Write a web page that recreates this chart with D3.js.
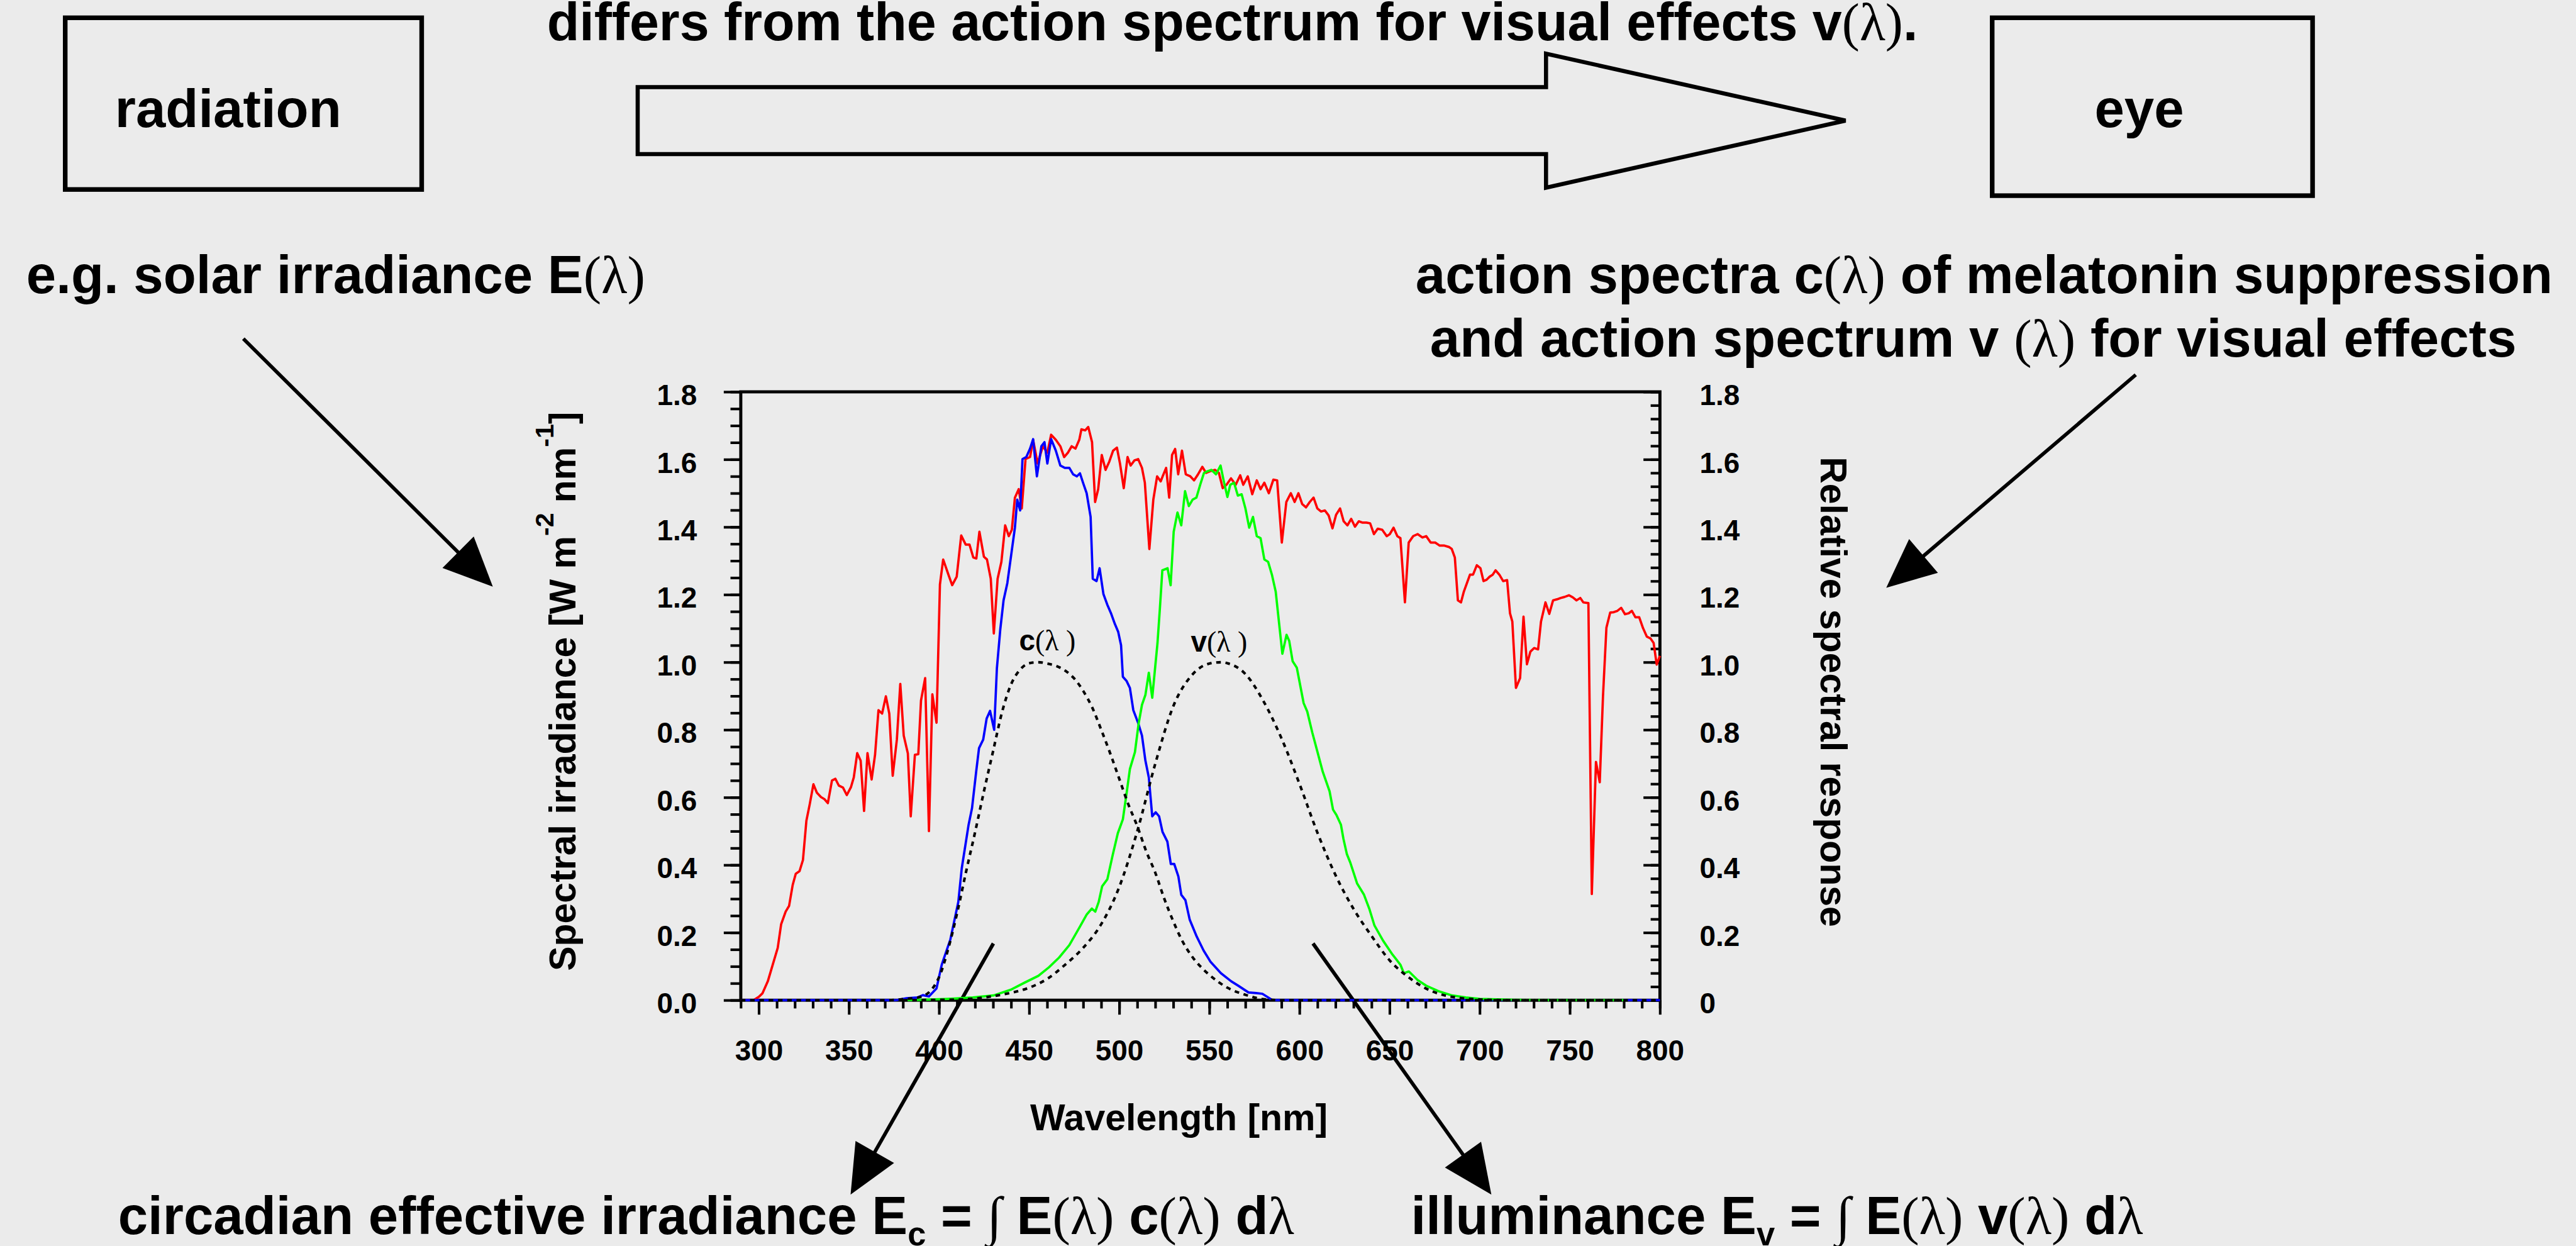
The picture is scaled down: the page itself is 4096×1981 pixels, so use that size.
<!DOCTYPE html>
<html><head><meta charset="utf-8">
<script src="https://cdn.jsdelivr.net/npm/d3@7"></script>
<style>html,body{margin:0;padding:0;background:#ebebeb;overflow:hidden}</style>
</head><body>
<script>
// ---------------- DATA ----------------
// solar spectral irradiance E(λ)  [nm, W m-2 nm-1]  (red)
const solarIrradiance = [[290,0],[297,0],[300,0.01],[302,0.02],[305,0.056],[310.5,0.155],[312.4,0.225],[314.9,0.262],[316.8,0.279],[318.8,0.341],[320.5,0.374],[322.6,0.382],[324.5,0.415],[326.4,0.531],[328.3,0.581],[330.3,0.639],[332.2,0.614],[334.5,0.601],[336.4,0.595],[338.3,0.583],[340.6,0.650],[342.5,0.655],[344.4,0.635],[346.7,0.629],[348.8,0.607],[351.1,0.630],[352.7,0.659],[354.6,0.731],[356.5,0.709],[358.4,0.560],[360.3,0.731],[362.6,0.653],[364.5,0.726],[366.4,0.858],[368.4,0.848],[370.5,0.899],[372.4,0.848],[374.3,0.664],[376.6,0.771],[378.5,0.936],[380.4,0.783],[382.7,0.730],[384.3,0.544],[386.6,0.726],[388.5,0.728],[390,0.887],[392.3,0.953],[394.4,0.500],[396.3,0.905],[398.6,0.821],[400.5,1.23],[402.3,1.304],[405.2,1.259],[407.3,1.228],[409.8,1.253],[412.3,1.375],[414.8,1.348],[416.9,1.348],[419,1.310],[420.7,1.307],[422.4,1.386],[424.9,1.312],[426.6,1.304],[428.7,1.247],[430.4,1.085],[432.5,1.247],[434.6,1.297],[436.7,1.405],[438.7,1.373],[440.4,1.392],[442.1,1.487],[444.2,1.512],[445.9,1.455],[448,1.601],[450.5,1.607],[452.2,1.658],[454.7,1.588],[457.6,1.639],[460.1,1.620],[462.2,1.673],[464.8,1.658],[467.3,1.639],[469.4,1.607],[471.5,1.620],[473.6,1.639],[475.7,1.632],[477.8,1.658],[479,1.689],[481.1,1.686],[482.8,1.696],[484.9,1.651],[486.6,1.474],[488.3,1.512],[490.3,1.613],[492.4,1.569],[494.5,1.594],[496.6,1.626],[498.7,1.635],[500.4,1.588],[502.5,1.515],[504.6,1.607],[506.3,1.582],[508.4,1.597],[510.5,1.601],[512.6,1.575],[514.2,1.531],[516.7,1.335],[518.9,1.481],[521,1.550],[523,1.535],[524.3,1.553],[526,1.575],[527.7,1.487],[529.3,1.613],[531,1.631],[532.7,1.556],[534.8,1.626],[536.9,1.556],[539.4,1.550],[541.5,1.538],[543.6,1.555],[546.1,1.578],[548.2,1.560],[550.3,1.565],[553.2,1.569],[555.3,1.560],[557.4,1.515],[559.5,1.525],[562,1.544],[564.6,1.525],[567.1,1.553],[568.8,1.525],[571.3,1.550],[573.8,1.497],[576.3,1.538],[578.4,1.512],[580.5,1.531],[583,1.500],[585.5,1.540],[587.6,1.538],[590.2,1.354],[592.7,1.474],[595.2,1.500],[597.3,1.474],[599.4,1.500],[601.5,1.468],[603.6,1.458],[605.7,1.474],[607.8,1.487],[609.9,1.455],[612,1.446],[614.1,1.449],[616.2,1.434],[618.3,1.396],[620.3,1.436],[622.5,1.455],[624.5,1.417],[626.6,1.405],[628.7,1.424],[630.8,1.401],[632.9,1.417],[635,1.413],[637.1,1.413],[639.2,1.411],[641.3,1.379],[643.4,1.395],[645.9,1.392],[648.4,1.373],[650.1,1.379],[652.2,1.398],[654.3,1.373],[656,1.367],[658.5,1.177],[660.6,1.354],[663.1,1.373],[665.6,1.379],[668.2,1.369],[670.3,1.373],[672.8,1.354],[675.3,1.354],[677.8,1.345],[680.4,1.345],[682.9,1.341],[684.5,1.335],[686.2,1.310],[687.9,1.183],[689.6,1.177],[691.2,1.209],[692.9,1.234],[694.6,1.259],[696.3,1.259],[698.4,1.287],[700.4,1.278],[702.1,1.240],[703.8,1.244],[705.5,1.253],[707.2,1.259],[708.8,1.272],[710.9,1.259],[713,1.240],[715.2,1.243],[716.8,1.145],[718.1,1.120],[720.1,0.924],[722.4,0.953],[724.3,1.135],[726.2,0.994],[728.1,1.031],[730.2,1.042],[732.4,1.038],[734,1.120],[736.5,1.177],[738.6,1.143],[740.7,1.183],[742.8,1.186],[744.9,1.190],[747,1.193],[749.5,1.198],[751.6,1.192],[753.7,1.183],[755.8,1.190],[757.5,1.177],[760.3,1.175],[762.2,0.314],[764.5,0.705],[766.6,0.645],[768.4,0.899],[770.3,1.102],[772.4,1.147],[774.3,1.148],[776.4,1.152],[778.5,1.161],[780.6,1.142],[782.7,1.145],[784.4,1.152],[786.4,1.133],[788.5,1.133],[790.6,1.101],[792.7,1.076],[794.8,1.070],[796.5,1.057],[798.2,0.993],[800,1.019]];

// E(λ)·c(λ)  (blue)
const circadianWeighted = [[290,0],[376,0],[382,0.006],[388,0.008],[391,0.015],[394.4,0.011],[398.6,0.035],[401.5,0.105],[406.3,0.18],[410.7,0.291],[412.6,0.39],[416.4,0.519],[418.3,0.568],[420.6,0.676],[422.2,0.746],[424.5,0.771],[426.4,0.833],[428.3,0.856],[430.6,0.80],[432.1,0.982],[434,1.098],[435.8,1.183],[437.9,1.234],[440,1.316],[442.1,1.398],[443.4,1.481],[445,1.449],[446.3,1.601],[448.4,1.607],[450.5,1.632],[452.2,1.660],[454.3,1.550],[456.8,1.639],[458.5,1.651],[460.1,1.588],[462.2,1.660],[464.8,1.626],[467.3,1.582],[469.8,1.575],[472.3,1.575],[474.4,1.556],[476.5,1.550],[478.2,1.559],[479.9,1.531],[481.9,1.500],[484.1,1.430],[485.3,1.247],[487.4,1.240],[489.1,1.278],[491.2,1.202],[493.3,1.171],[495.4,1.145],[497.5,1.114],[499.4,1.09],[501,1.05],[502,0.957],[504,0.945],[505.9,0.924],[507.8,0.858],[510.5,0.82],[512.6,0.783],[514.5,0.709],[516.4,0.659],[518.3,0.544],[520.2,0.556],[522.1,0.544],[524,0.498],[526.7,0.469],[528.6,0.403],[530.5,0.403],[532.8,0.366],[534.4,0.312],[536.7,0.296],[539.1,0.238],[543,0.188],[546.8,0.147],[550.6,0.114],[556.4,0.080],[562.1,0.056],[566,0.043],[571.7,0.023],[576,0.021],[579.4,0.019],[585.1,0],[800,0]];

// E(λ)·v(λ)  (green)
const visualWeighted = [[380,0],[390,0.001],[405,0.004],[418.7,0.008],[430.2,0.014],[439.8,0.031],[447.5,0.052],[455.1,0.072],[460.9,0.097],[466.6,0.126],[472.3,0.163],[478.1,0.217],[482,0.254],[484.8,0.271],[486.7,0.262],[488.6,0.291],[490.5,0.337],[493.4,0.358],[496.3,0.428],[499.2,0.494],[502,0.535],[504,0.610],[505.9,0.684],[508.7,0.734],[510.7,0.817],[512.6,0.874],[514.5,0.903],[516.4,0.969],[518.3,0.895],[521.2,1.056],[522.5,1.156],[523.9,1.272],[526.8,1.278],[528.5,1.228],[530.2,1.386],[532.3,1.443],[534.4,1.405],[536.5,1.506],[538.6,1.462],[540.7,1.481],[542.8,1.487],[544.9,1.525],[547,1.560],[549,1.565],[551.2,1.569],[553.7,1.556],[556.2,1.582],[557.9,1.538],[560,1.489],[561.6,1.525],[563.7,1.531],[565.8,1.493],[567.9,1.497],[570,1.455],[572.1,1.398],[574.2,1.430],[576.3,1.373],[578.4,1.367],[580.5,1.304],[582.6,1.297],[584.7,1.259],[586.8,1.209],[590.5,1.025],[592.8,1.081],[594.3,1.063],[596.2,1.003],[598.5,0.984],[602.3,0.879],[604.3,0.854],[607.1,0.792],[610,0.734],[612.9,0.676],[616.7,0.618],[618.6,0.564],[620.5,0.548],[623,0.519],[624.4,0.477],[626.3,0.432],[628.2,0.407],[632,0.345],[635.8,0.312],[638.7,0.271],[641.6,0.221],[646.4,0.176],[651.2,0.138],[656,0.105],[657.9,0.080],[660.7,0.085],[665.5,0.060],[670.3,0.043],[677,0.027],[684.7,0.014],[692.3,0.008],[700,0.004],[719,0.001],[738,0],[780,0]];

// action spectrum c(λ) for melatonin suppression (dotted)
const circadianAction = [[290,0],[370,0],[380,0.003],[390,0.01],[400,0.068],[405,0.15],[410,0.257],[415,0.38],[420,0.497],[425,0.62],[430,0.737],[435,0.853],[440,0.935],[445,0.978],[450,0.997],[455,1.0],[460,0.996],[465,0.989],[470,0.975],[475,0.952],[480,0.915],[485,0.866],[490,0.80],[495,0.73],[500,0.655],[505,0.58],[510,0.515],[515,0.44],[520,0.377],[525,0.30],[530,0.233],[535,0.175],[540,0.132],[545,0.10],[550,0.075],[560,0.037],[570,0.016],[580,0.003],[590,0],[800,0]];

// action spectrum v(λ) for visual effects (dotted)
const visualAction = [[380,0],[400,0.001],[410,0.002],[420,0.005],[430,0.012],[440,0.022],[450,0.037],[460,0.063],[470,0.105],[480,0.155],[490,0.225],[500,0.335],[510,0.50],[520,0.70],[530,0.87],[540,0.96],[550,0.996],[557,1.0],[560,0.997],[570,0.965],[580,0.885],[590,0.775],[600,0.64],[610,0.495],[620,0.37],[630,0.27],[640,0.19],[650,0.118],[660,0.07],[670,0.035],[680,0.015],[690,0.006],[700,0.002],[720,0],[780,0]];

const xMajorTicks = [300,350,400,450,500,550,600,650,700,750,800];
const yMajorTicks = [0,0.2,0.4,0.6,0.8,1.0,1.2,1.4,1.6,1.8];
const leftTickLabels = ["0.0","0.2","0.4","0.6","0.8","1.0","1.2","1.4","1.6","1.8"];
const rightTickLabels = ["0","0.2","0.4","0.6","0.8","1.0","1.2","1.4","1.6","1.8"];

// ---------------- DRAWING ----------------
const W = 4096, H = 1981, S = W / 4997;
const SANS = "'Liberation Sans', Arial, Helvetica, sans-serif";
const SERIF = "'Liberation Serif', 'Times New Roman', 'DejaVu Serif', serif";

const svg = d3.select("body").append("svg").attr("width", W).attr("height", H);
svg.append("rect").attr("width", W).attr("height", H).attr("fill", "#ebebeb");
const g = svg.append("g").attr("transform", `scale(${S})`);

// rich text helper
function rich(parent, x, y, size, parts, anchor, transform) {
  const t = parent.append("text")
    .attr("font-family", SANS).attr("font-weight", "bold").attr("font-size", size)
    .attr("fill", "#000").attr("text-anchor", anchor || "start");
  if (transform) t.attr("transform", transform); else t.attr("x", x).attr("y", y);
  parts.forEach(p => {
    const s = t.append("tspan").text(p.t);
    if (p.serif) s.attr("font-family", SERIF).attr("font-weight", "normal");
    if (p.size) s.attr("font-size", p.size);
    if (p.dy) s.attr("dy", p.dy);
  });
  return t;
}

// boxes
g.append("rect").attr("x", 126.5).attr("y", 34.5).attr("width", 691.5).attr("height", 333)
  .attr("fill", "none").attr("stroke", "#000").attr("stroke-width", 9);
g.append("rect").attr("x", 3864.5).attr("y", 34.5).attr("width", 621.5).attr("height", 345)
  .attr("fill", "none").attr("stroke", "#000").attr("stroke-width", 9);
rich(g, 223, 247, 104, [{t: "radiation"}]);
rich(g, 4063, 247, 104, [{t: "eye"}]);

// big arrow
g.append("path")
  .attr("d", "M1237,169 L2999,169 L2999,104 L3580,234 L2999,364 L2999,299 L1237,299 Z")
  .attr("fill", "none").attr("stroke", "#000").attr("stroke-width", 8).attr("stroke-linejoin", "miter");

// top text (its upper edge touches the top of the figure, as in the reference)
rich(g, 1061, 78, 103, [{t: "differs from the action spectrum for visual effects v"}, {t: "(λ)", serif: true}, {t: "."}]);

// side texts
rich(g, 51, 568, 104, [{t: "e.g. solar irradiance E"}, {t: "(λ)", serif: true}]);
rich(g, 2746, 568, 104, [{t: "action spectra c"}, {t: "(λ)", serif: true}, {t: " of melatonin suppression"}]);
rich(g, 2774, 692, 104, [{t: "and action spectrum v "}, {t: "(λ)", serif: true}, {t: " for visual effects"}]);

// bottom formulas
rich(g, 229, 2393, 104, [{t: "circadian effective irradiance E"}, {t: "c", size: 64, dy: 22},
  {t: " = ", dy: -22}, {t: "∫", serif: true}, {t: " E"}, {t: "(λ)", serif: true}, {t: " c"}, {t: "(λ)", serif: true},
  {t: " d"}, {t: "λ", serif: true}]);
rich(g, 2737, 2393, 104, [{t: "illuminance E"}, {t: "v", size: 64, dy: 22},
  {t: " = ", dy: -22}, {t: "∫", serif: true}, {t: " E"}, {t: "(λ)", serif: true}, {t: " v"}, {t: "(λ)", serif: true},
  {t: " d"}, {t: "λ", serif: true}]);

// arrows
function arrow(sx, sy, tx, ty) {
  const L = 95, hw = 43;
  const dx = tx - sx, dy = ty - sy, len = Math.hypot(dx, dy);
  const ux = dx / len, uy = dy / len, nx = -uy, ny = ux;
  const bx = tx - L * ux, by = ty - L * uy;
  g.append("line").attr("x1", sx).attr("y1", sy).attr("x2", bx + ux * 10).attr("y2", by + uy * 10)
    .attr("stroke", "#000").attr("stroke-width", 7);
  g.append("path").attr("d", `M${tx},${ty}L${bx + hw * nx},${by + hw * ny}L${bx - hw * nx},${by - hw * ny}Z`)
    .attr("fill", "#000");
}
arrow(472, 657, 956, 1138);
arrow(4143, 727, 3659, 1140);
arrow(1927, 1830, 1650, 2317);
arrow(2547, 1830, 2893, 2317);

// ---------------- CHART ----------------
const x = d3.scaleLinear().domain([290, 800]).range([1437, 3220]);
const y = d3.scaleLinear().domain([0, 1.8]).range([1940, 760]);

function styleAxis(a, size) {
  a.select(".domain").remove();
  a.attr("font-family", SANS).attr("font-weight", "bold").attr("font-size", size || 56);
  a.selectAll("line").attr("stroke", "#000").attr("stroke-width", 5);
  a.selectAll("text").attr("fill", "#000");
}

// left axis
const yMinorL = d3.range(0, 1.8001, 0.05);
styleAxis(g.append("g").attr("transform", "translate(1437,0)")
  .call(d3.axisLeft(y).tickValues(yMinorL).tickSize(20).tickFormat("")));
const aL = g.append("g").attr("transform", "translate(1437,0)")
  .call(d3.axisLeft(y).tickValues(yMajorTicks).tickSize(33).tickPadding(52)
    .tickFormat((d, i) => leftTickLabels[i]));
styleAxis(aL); aL.selectAll("text").attr("dy", "0.45em");

// right axis (ticks inward)
const yMinorR = d3.range(0, 1.8001, 0.04);
styleAxis(g.append("g").attr("transform", "translate(3220,0)")
  .call(d3.axisRight(y).tickValues(yMinorR).tickSizeInner(-18).tickSizeOuter(0).tickFormat("")));
const aR = g.append("g").attr("transform", "translate(3220,0)")
  .call(d3.axisRight(y).tickValues(yMajorTicks).tickSizeInner(-32).tickSizeOuter(0).tickPadding(77)
    .tickFormat((d, i) => rightTickLabels[i]));
styleAxis(aR); aR.selectAll("text").attr("dy", "0.45em");

// bottom axis
const xMinor = d3.range(290, 800.1, 10);
styleAxis(g.append("g").attr("transform", "translate(0,1940)")
  .call(d3.axisBottom(x).tickValues(xMinor).tickSize(16).tickFormat("")));
const aB = g.append("g").attr("transform", "translate(0,1940)")
  .call(d3.axisBottom(x).tickValues(xMajorTicks).tickSize(28).tickPadding(49).tickFormat(d3.format("d")));
styleAxis(aB);

// frame
g.append("rect").attr("x", 1437).attr("y", 760).attr("width", 3220 - 1437).attr("height", 1940 - 760)
  .attr("fill", "none").attr("stroke", "#000").attr("stroke-width", 6);

// axis titles
rich(g, 2287, 2192, 72, [{t: "Wavelength [nm]"}], "middle");
rich(g, 0, 0, 72, [{t: "Spectral irradiance [W m"}, {t: "-2", size: 50, dy: -43}, {t: " nm", dy: 43},
  {t: "-1", size: 50, dy: -43}, {t: "]", dy: 43}], "middle", "translate(1116,1341) rotate(-90)");
rich(g, 0, 0, 72, [{t: "Relative spectral response"}], "middle", "translate(3532,1342) rotate(90)");

// curves
const lin = d3.line().x(d => x(d[0])).y(d => y(d[1]));
const smooth = d3.line().x(d => x(d[0])).y(d => y(d[1])).curve(d3.curveMonotoneX);
const curves = g.append("g").attr("fill", "none").attr("stroke-linejoin", "round");
curves.append("path").attr("d", lin(solarIrradiance)).attr("stroke", "#ff0000").attr("stroke-width", 4.5);
curves.append("path").attr("d", lin(circadianWeighted)).attr("stroke", "#0000ff").attr("stroke-width", 4.5);
curves.append("path").attr("d", lin(visualWeighted)).attr("stroke", "#00ff00").attr("stroke-width", 4.5);
curves.append("path").attr("d", smooth(circadianAction)).attr("stroke", "#000").attr("stroke-width", 5).attr("stroke-dasharray", "9,9");
curves.append("path").attr("d", smooth(visualAction)).attr("stroke", "#000").attr("stroke-width", 5).attr("stroke-dasharray", "9,9");

// curve labels
rich(g, 1977, 1261, 56, [{t: "c"}, {t: "(λ )", serif: true}]);
rich(g, 2310, 1264, 56, [{t: "v"}, {t: "(λ )", serif: true}]);
</script>
</body></html>
